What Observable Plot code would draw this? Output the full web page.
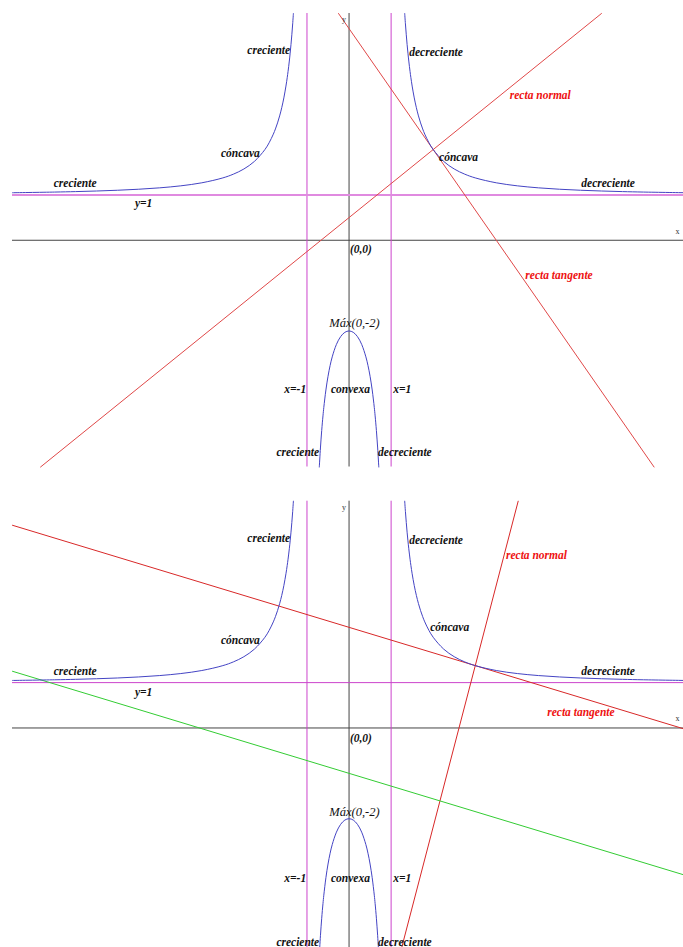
<!DOCTYPE html>
<html>
<head>
<meta charset="utf-8">
<script src="https://cdn.jsdelivr.net/npm/d3@7"></script>
<script src="https://cdn.jsdelivr.net/npm/@observablehq/plot@0.6"></script>
<style>
  html, body { margin: 0; padding: 0; background: #fff; overflow: hidden; }
  #chart { width: 683px; height: 947px; }
  #chart svg { display: block; overflow: hidden; }
</style>
</head>
<body>
<div id="chart"></div>
<script>
// ---- curve f(x) = (x^2+2)/(x^2-1) ----
const curveLeftX  = [-8, -7, -6.5, -6, -5.5, -5, -4.5, -4, -3.5, -3, -2.75, -2.5, -2.25, -2, -1.9, -1.8, -1.75, -1.7, -1.65, -1.6, -1.55, -1.5, -1.47, -1.45, -1.42, -1.4, -1.38, -1.36, -1.34, -1.3229];
const curveLeftY  = [1.0476, 1.0625, 1.0727, 1.0857, 1.1026, 1.125, 1.1558, 1.2, 1.2667, 1.375, 1.4571, 1.5714, 1.7385, 2, 2.1494, 2.3393, 2.4545, 2.5873, 2.7417, 2.9231, 3.139, 3.4, 3.5842, 3.7211, 3.9516, 4.125, 4.3171, 4.5311, 4.7708, 5];
const curveRightX = [1.3229, 1.34, 1.36, 1.38, 1.4, 1.42, 1.45, 1.47, 1.5, 1.55, 1.6, 1.65, 1.7, 1.75, 1.8, 1.9, 2, 2.25, 2.5, 2.75, 3, 3.5, 4, 4.5, 5, 5.5, 6, 6.5, 7, 8];
const curveRightY = [5, 4.7708, 4.5311, 4.3171, 4.125, 3.9516, 3.7211, 3.5842, 3.4, 3.139, 2.9231, 2.7417, 2.5873, 2.4545, 2.3393, 2.1494, 2, 1.7385, 1.5714, 1.4571, 1.375, 1.2667, 1.2, 1.1558, 1.125, 1.1026, 1.0857, 1.0727, 1.0625, 1.0476];
const curveMidX   = [-0.7071, -0.68, -0.65, -0.62, -0.6, -0.55, -0.5, -0.45, -0.4, -0.3, -0.2, -0.1, 0, 0.1, 0.2, 0.3, 0.4, 0.45, 0.5, 0.55, 0.6, 0.62, 0.65, 0.68, 0.7071];
const curveMidY   = [-5, -4.5804, -4.1948, -3.8733, -3.6875, -3.3011, -3, -2.7618, -2.5714, -2.2967, -2.125, -2.0303, -2, -2.0303, -2.125, -2.2967, -2.5714, -2.7618, -3, -3.3011, -3.6875, -3.8733, -4.1948, -4.5804, -5];

// ---- asymptotes ----
const verticalAsymptotes = [-1, 1];
const horizontalAsymptotes = [1];

// ---- straight lines (end points, data units) ----
const tangent1X = [-0.25, 7.25],  tangent1Y = [5, -5];
const normal1X  = [-7.333, 6],    normal1Y  = [-5, 5];
const tangent2X = [-8, 7.95],     tangent2Y = [4.469, -0.017];
const normal2X  = [1.207, 4.02],  normal2Y  = [-5, 5];
const green2X   = [-8, 7.95],     green2Y   = [1.25, -3.236];

// ---- labels (data units) ----
const labels1End = [
  {t: "creciente", x: -1.40, y: 4.19}, {t: "cóncava", x: -2.12, y: 1.92},
  {t: "x=-1", x: -1.02, y: -3.29}, {t: "creciente", x: -0.71, y: -4.68}
];
const labels1Start = [
  {t: "decreciente", x: 1.43, y: 4.15}, {t: "cóncava", x: 2.14, y: 1.83},
  {t: "creciente", x: -7.02, y: 1.26}, {t: "decreciente", x: 5.52, y: 1.26},
  {t: "y=1", x: -5.09, y: 0.82}, {t: "(0,0)", x: 0.02, y: -0.2},
  {t: "convexa", x: -0.43, y: -3.29}, {t: "x=1", x: 1.05, y: -3.29},
  {t: "decreciente", x: 0.69, y: -4.68}
];
const labels1Red = [{t: "recta normal", x: 3.82, y: 3.2}, {t: "recta tangente", x: 4.19, y: -0.77}];
const labels1Max = [{t: "Máx(0,-2)", x: 0.13, y: -1.83}];
const labels1Axis = [{t: "y", x: -0.17, y: 4.86}, {t: "x", x: 7.76, y: 0.2}];

const labels2End = [
  {t: "creciente", x: -1.40, y: 4.19}, {t: "cóncava", x: -2.12, y: 1.94},
  {t: "x=-1", x: -1.02, y: -3.31}, {t: "creciente", x: -0.71, y: -4.72}
];
const labels2Start = [
  {t: "decreciente", x: 1.43, y: 4.13}, {t: "cóncava", x: 1.93, y: 2.23},
  {t: "creciente", x: -7.02, y: 1.24}, {t: "decreciente", x: 5.52, y: 1.24},
  {t: "y=1", x: -5.09, y: 0.79}, {t: "(0,0)", x: 0.02, y: -0.22},
  {t: "convexa", x: -0.43, y: -3.31}, {t: "x=1", x: 1.05, y: -3.31},
  {t: "decreciente", x: 0.69, y: -4.72}
];
const labels2Red = [{t: "recta normal", x: 3.73, y: 3.80}, {t: "recta tangente", x: 4.71, y: 0.35}];
const labels2Max = [{t: "Máx(0,-2)", x: 0.13, y: -1.85}];
const labels2Axis = [{t: "y", x: -0.17, y: 4.86}, {t: "x", x: 7.76, y: 0.2}];

// ---- build tables ----
const zipXY = (xs, ys, key) => xs.map((x, i) => ({x, y: ys[i], k: key}));
const curveRows = [
  ...zipXY(curveLeftX, curveLeftY, "left"),
  ...zipXY(curveRightX, curveRightY, "right"),
  ...zipXY(curveMidX, curveMidY, "mid")
];

const FONT = "'Liberation Serif', 'Times New Roman', serif";

function textMarks(endL, startL, redL, maxL, axisL) {
  const common = {x: "x", y: "y", text: "t", fontFamily: FONT, fontSize: 11.5, fontStyle: "italic", fontWeight: "bold"};
  return [
    Plot.text(endL, {...common, textAnchor: "end", fill: "#111"}),
    Plot.text(startL, {...common, textAnchor: "start", fill: "#111"}),
    Plot.text(redL, {...common, textAnchor: "start", fill: "#ee1111"}),
    Plot.text(maxL, {...common, fontWeight: "normal", fontSize: 12.5, textAnchor: "middle", fill: "#111"}),
    Plot.text(axisL, {x: "x", y: "y", text: "t", fontFamily: FONT, fontSize: 8, textAnchor: "start", fill: "#333"})
  ];
}

function panel({height, marginTop, marginBottom, yDomain, lines, labels, hWidth, hColor}) {
  return Plot.plot({
    width: 683,
    height,
    marginLeft: 12,
    marginRight: 0,
    marginTop,
    marginBottom,
    x: {domain: [-8, 7.95], axis: null},
    y: {domain: yDomain, axis: null},
    style: {background: "white", overflow: "hidden"},
    marks: [
      Plot.ruleY([0], {stroke: "#444", strokeWidth: 1}),
      Plot.ruleX([0], {stroke: "#444", strokeWidth: 1}),
      Plot.ruleX(verticalAsymptotes, {stroke: "#cc44cc", strokeWidth: 1}),
      Plot.ruleY(horizontalAsymptotes, {stroke: hColor, strokeWidth: hWidth}),
      ...lines,
      Plot.line(curveRows, {x: "x", y: "y", z: "k", stroke: "#4444c4", strokeWidth: 1, curve: "catmull-rom"}),
      ...labels
    ]
  });
}

const lineRows = (xs, ys) => zipXY(xs, ys, "l");

const p1 = panel({
  height: 480, marginTop: 13, marginBottom: 13.5, yDomain: [-5, 5],
  hWidth: 2, hColor: "#e08ae0",
  lines: [
    Plot.line(lineRows(tangent1X, tangent1Y), {x: "x", y: "y", stroke: "#e04848", strokeWidth: 1}),
    Plot.line(lineRows(normal1X, normal1Y), {x: "x", y: "y", stroke: "#e04848", strokeWidth: 1})
  ],
  labels: textMarks(labels1End, labels1Start, labels1Red, labels1Max, labels1Axis)
});

const p2 = panel({
  height: 467, marginTop: 20.7, marginBottom: 0, yDomain: [-4.84, 5],
  hWidth: 1, hColor: "#cc44cc",
  lines: [
    Plot.line(lineRows(tangent2X, tangent2Y), {x: "x", y: "y", stroke: "#d82828", strokeWidth: 1}),
    Plot.line(lineRows(normal2X, normal2Y), {x: "x", y: "y", stroke: "#d82828", strokeWidth: 1}),
    Plot.line(lineRows(green2X, green2Y), {x: "x", y: "y", stroke: "#33cc33", strokeWidth: 1})
  ],
  labels: textMarks(labels2End, labels2Start, labels2Red, labels2Max, labels2Axis)
});

const chart = document.getElementById("chart");
chart.appendChild(p1);
chart.appendChild(p2);
</script>
</body>
</html>
